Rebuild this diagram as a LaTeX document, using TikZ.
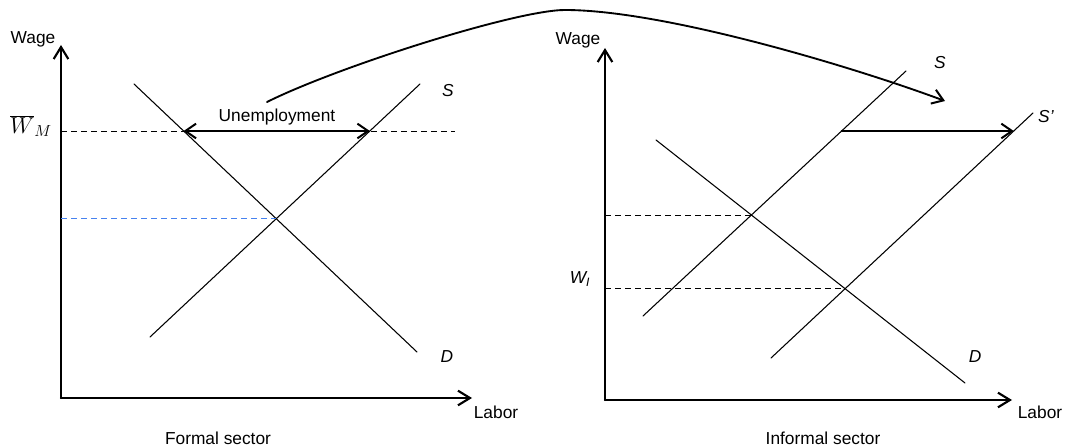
\documentclass[tikz,border=0pt]{standalone}
\usepackage{fontspec}
\setmainfont{Liberation Sans}
\usetikzlibrary{arrows.meta,intersections}
\definecolor{guideblue}{RGB}{70,130,240}
\begin{document}
\begin{tikzpicture}[x=0.75pt,y=-0.75pt,font=\fontsize{13}{15}\selectfont, line join=round, line cap=round,
    axis/.style={line width=1.6pt,-{Straight Barb[length=9pt,width=11pt,line width=1.6pt]}},
    curve/.style={line width=0.8pt},
    shiftarrow/.style={line width=1.4pt},
    guide/.style={line width=0.7pt,line cap=butt,dash pattern=on 4.5pt off 3pt},
    >={Straight Barb[length=8pt,width=11pt,line width=1.5pt]}] %Thi truong lao dong hai khu vuc
    \useasboundingbox (0,0) rectangle (1066,448);
    % Formal sector
    \coordinate (O1) at (61,398);
    \draw[axis] (O1) -- (61,45);
    \draw[axis] (O1) -- (472,398);
    \node (wage1) at (33,39) {Wage};
    \node (labor1) at (496,412) {Labor};
    \node (formal) at (218,438) {Formal sector};
    \node[font=\fontsize{17}{19}\selectfont] (wm) at (31,126) {$\overline{W}_{M}$};
    \draw[curve,name path=D1] (134,84) -- (417,352);
    \draw[curve,name path=S1] (150,337) -- (420,84);
    \node (s1) at (448,91) {\textit{S}};
    \node (d1) at (447,357) {\textit{D}};
    \path[name path=top1] (61,131) -- (455,131);
    \path[name intersections={of=D1 and S1,by=E1}];
    \path[name intersections={of=D1 and top1,by=U1}];
    \path[name intersections={of=S1 and top1,by=U2}];
    \draw[guide] (61,131) -- (455,131);
    \draw[guide,draw=guideblue] (O1 |- E1) -- (E1);
    \draw[shiftarrow,<->] (U1) -- (U2);
    \node (unemp) at (277,117) {Unemployment};
    % Informal sector
    \coordinate (O2) at (605,400);
    \draw[axis] (O2) -- (605,48);
    \draw[axis] (O2) -- (1012,400);
    \node (wage2) at (578,40) {Wage};
    \node (labor2) at (1040,412) {Labor};
    \node (informal) at (823,438) {Informal sector};
    \node (wi) at (580,279) {\textit{W\textsubscript{I}}};
    \draw[curve,name path=D2] (656,140) -- (965,383);
    \draw[curve,name path=S2] (643,316) -- (906,71);
    \draw[curve,name path=T2] (771,358) -- (1033,113);
    \node (s2) at (940,63) {\textit{S}};
    \node (t2) at (1046,117) {\textit{S'}};
    \node (d2) at (975,357) {\textit{D}};
    \path[name intersections={of=D2 and S2,by=E2}];
    \path[name intersections={of=D2 and T2,by=E3}];
    \draw[guide] (O2 |- E2) -- (E2);
    \draw[guide] (O2 |- E3) -- (E3);
    \path[name path=mid2] (800,131) -- (1050,131);
    \path[name intersections={of=S2 and mid2,by=A1}];
    \path[name intersections={of=T2 and mid2,by=A2}];
    \draw[shiftarrow,->] (A1) -- (A2);
    % migration
    \coordinate (from) at (267,102);
    \coordinate (to) at (945,101);
    \draw[shiftarrow,->] (from) .. controls (337,67) and (516,10) .. (565,10) .. controls (662,10) and (848,65) .. (to);
\end{tikzpicture}
\end{document}
